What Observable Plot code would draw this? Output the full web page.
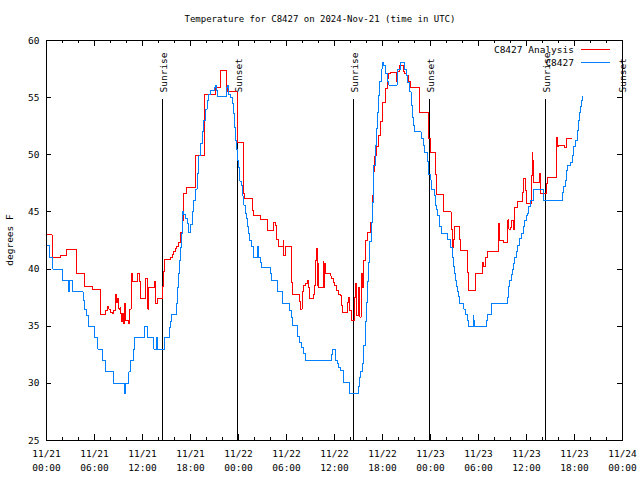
<!DOCTYPE html>
<html><head><meta charset="utf-8">
<script src="https://cdn.jsdelivr.net/npm/d3@7"></script>
<script src="https://cdn.jsdelivr.net/npm/@observablehq/plot@0.6"></script>
<style>body{margin:0;background:#fff}</style>
</head><body><div id="chart"></div>
<script>
// Hours since 2024-11-21 00:00 UTC
const analysisHours = [0,0.7,1.75,2.5,3.7,4.75,5.8,6.7,7.4,7.58,7.79,8.0,8.2,8.4,8.6,8.75,8.9,9.04,9.17,9.25,9.375,9.5,9.67,9.79,9.92,10.29,10.42,10.58,10.75,11.4,11.58,11.75,12.375,12.67,12.8,13.5,13.625,13.83,14.46,14.58,14.75,15.5,15.7,15.83,16.1,16.25,16.54,16.75,16.96,17.08,17.17,17.5,18.6,19.8,21.1,21.8,22.5,22.6,23.83,24.6,24.8,25.7,25.83,26.75,27.67,28.4,28.6,28.75,28.96,29.58,29.67,29.9,30.58,30.75,31.6,31.75,31.96,32.17,32.375,32.67,32.8,32.9,33.4,33.5,33.625,33.75,33.83,33.9,34.04,34.58,34.67,34.75,34.875,35.5,35.58,35.83,36.0,36.25,36.54,36.75,36.83,36.96,37.58,37.8,37.9,38.1,38.5,38.625,38.75,39.04,39.17,39.33,39.46,39.67,39.875,40.08,40.5,40.71,40.92,41.04,41.25,41.54,41.75,41.96,42.375,42.58,42.79,43.0,43.75,43.9,44.17,44.58,44.75,45.0,45.29,45.5,46.67,47.8,48.0,48.6,48.7,49.67,50.58,50.71,50.83,51.0,51.625,51.75,52.58,52.71,53.625,54.54,54.67,54.875,55.08,56.54,56.67,57.17,57.58,57.67,57.79,58.0,58.125,58.33,58.5,58.92,59.46,59.67,59.875,60.0,60.625,60.71,60.79,60.83,60.92,61.67,61.75,62.5,62.58,63.7,63.75,63.92,64.04,64.75,64.96,65.58];
const analysisTemps = [43,41,41.2,41.7,39.6,38.5,38.2,36,36.4,36.7,36.5,36.2,36.1,36.4,37.8,37.1,37.4,36.5,36.6,36.1,35.4,36.1,35.2,37.0,35.5,35.2,36.5,39.6,38.9,39.6,38.9,37.4,39.15,36.5,38.4,38.9,37.0,37.4,38.5,39.8,40.8,41.0,41.3,41.5,41.8,42.0,42.3,43.2,44.25,45.85,46.6,47.1,49.9,55.3,55.9,57.4,55.9,55.5,51.1,46.6,46.2,45.1,44.7,44.3,43.4,44.1,43.8,42.6,42.0,42.5,41.2,42.0,38.8,37.8,37.2,36.5,38.0,38.6,38.7,39.0,38.4,37.4,37.8,38.6,40.75,41.8,38.6,40.5,38.4,40.7,38.4,40.5,39.6,39.4,39.2,38.8,38.6,38.1,37.8,37.7,36.8,36.2,37.1,37.5,36.4,35.5,37.5,38.7,35.9,38.4,35.8,39.6,38.4,40.75,42.5,43.2,44.1,46.4,48.5,49.9,50.7,51.7,52.9,54.6,55.8,56.65,57.1,57.2,56.4,57.3,57.8,57.3,57.1,56.9,56.4,55.9,53.7,51.4,50.2,48.3,46.5,45.0,43.5,41.9,42.6,43.7,42.6,41.6,39.7,38.1,39.6,40.6,40.2,41.0,41.5,44.0,42.5,42.3,43.2,44.3,43.5,43.6,44.25,43.5,45.4,45.9,46.7,47.9,46.9,45.7,48.2,50.2,49.5,48.3,47.6,48.4,46.6,47.5,48.0,49.8,51.5,50.7,50.8,50.6,51.4,51.4];

const stationHours = [0,0.375,0.79,1.96,2.79,2.92,3.29,4.58,4.75,4.96,5.29,6.04,6.42,6.96,7.375,8.42,9.79,9.92,10.29,10.5,10.83,11.0,12.29,12.58,13.4,13.75,13.83,14.75,15.4,15.5,15.625,16.25,16.33,16.46,16.58,16.75,16.83,16.96,17.0,17.17,17.375,17.58,17.79,18.0,18.2,18.42,18.625,18.83,19.04,19.25,19.46,19.67,19.875,20.08,20.29,20.5,21.0,21.125,21.25,21.33,22.46,22.58,22.79,23.0,23.2,23.33,23.5,23.625,23.75,23.92,24.04,24.17,24.33,24.46,24.58,24.67,24.875,25.0,25.08,25.29,25.4,25.58,25.92,26.4,26.54,26.75,26.83,28.0,28.125,28.83,29.54,30.375,30.58,30.7,31.33,31.67,31.83,32.17,32.375,35.58,35.7,36.125,36.33,36.54,36.75,37.17,37.875,39.04,39.17,39.25,39.46,39.67,39.875,40.0,40.17,40.29,40.42,40.58,40.71,40.83,40.92,41.125,41.25,41.42,41.54,41.67,41.83,41.96,42.17,42.375,42.58,42.79,43.83,43.92,44.25,44.75,45.0,45.17,45.42,45.58,45.71,45.83,46.0,46.83,47.08,47.25,47.67,47.79,48.0,48.08,48.5,48.625,48.75,48.92,49.17,49.33,50.17,50.5,50.79,50.92,51.0,51.125,51.25,51.42,51.54,51.67,52.17,52.375,52.67,52.79,53.33,53.42,53.5,54.96,55.08,55.58,57.58,57.71,57.79,57.92,58.08,58.21,58.42,58.54,58.75,58.92,59.17,59.33,59.58,59.75,60.0,60.17,60.29,60.5,60.92,62.08,62.17,64.46,64.67,64.875,65.0,65.08,65.5,65.71,65.92,66.125,66.33,66.46,66.625,66.75,66.875,66.96];
const stationTemps = [42.1,41,40,39,38,39,38,37.25,36.5,35.9,35,34,33,32,31,30,29.1,30,31,32,33,34,35,34,33,34,33,34,34.9,35.4,36.0,37.0,38.4,39.6,40.75,41.9,43.1,44.25,45.0,44.8,44.4,44.0,43.2,43.9,45.0,46.0,47.0,48.4,49.9,51.0,52.0,53.0,54.0,54.75,55.3,55.6,55.9,56.1,55.6,55.1,55.9,56.1,55.3,55.0,54.5,53.6,52.4,51.25,50.5,49.5,48.9,47.7,47.3,46.4,45.9,45.6,44.9,44.4,43.7,43.1,42.5,42.0,41.0,42.0,41.0,40.6,40.1,39.6,39.0,38.0,37.0,36.4,35.8,35.1,34.1,33.6,33.1,32.6,32.0,32.5,33.0,32.0,31.7,31.4,31.1,30.1,29.1,29.7,30.5,31.0,31.7,33.3,35.4,37.1,38.9,40.6,42.4,44.1,45.8,47.6,49.1,50.8,52.3,53.7,55.2,56.4,57.5,58.1,57.8,57.1,56.4,56.1,57.0,57.5,58.1,57.5,56.9,56.3,55.5,54.3,53.3,52.6,52.0,51.4,50.8,50.2,49.4,48.3,47.8,47.0,46.4,45.6,45.2,44.7,43.7,43.1,42.6,41.9,41.0,40.2,39.6,39.0,38.5,38.0,37.6,37.0,36.5,36.0,35.5,35.0,35.9,35.5,35.0,35.5,36.0,37.0,37.5,38.0,38.5,39.0,39.5,40.0,40.5,41.0,41.5,42.1,42.7,43.1,43.7,44.25,44.7,44.9,45.5,46.0,47.0,46.5,46.0,46.7,47.2,47.75,48.6,49.1,49.3,49.9,50.7,51.25,52.1,53.0,53.7,54.2,54.75,55.1];

const sunHours = [14.5, 23.9, 38.4, 47.9, 62.4, 71.95];
const sunLabels = ["Sunrise", "Sunset", "Sunrise", "Sunset", "Sunrise", "Sunset"];
const sunLineTop = 54.8;
const sunLabelY = 55.45;

const xTickValues = [0,6,12,18,24,30,36,42,48,54,60,66,72];
const xTickLabels = ["11/21\n00:00","11/21\n06:00","11/21\n12:00","11/21\n18:00","11/22\n00:00","11/22\n06:00","11/22\n12:00","11/22\n18:00","11/23\n00:00","11/23\n06:00","11/23\n12:00","11/23\n18:00","11/24\n00:00"];
const xMinorTicks = d3.range(0, 73, 2);
const yTickValues = [25,30,35,40,45,50,55,60];

const seriesNames = ["C8427 Analysis", "C8427"];
const seriesColors = ["#ff0000", "#0080ff"];
const titleText = "Temperature for C8427 on 2024-Nov-21 (time in UTC)";
const yLabelText = "degrees F";

const W = 640, H = 480, ML = 46, MR = 18, MT = 40, MB = 40;
const FW = W - ML - MR, FH = H - MT - MB;
const FONT = "'DejaVu Sans Mono', 'Liberation Mono', monospace";

const analysis = analysisHours.map((h, i) => ({h, t: analysisTemps[i]}));
const station = stationHours.map((h, i) => ({h, t: stationTemps[i]}));
const sunEvents = sunHours.map((h, i) => ({h, label: sunLabels[i]}));

const plot = Plot.plot({
  width: W, height: H,
  marginLeft: ML, marginRight: MR, marginTop: MT, marginBottom: MB,
  x: {domain: [0, 72]},
  y: {domain: [25, 60]},
  style: {fontFamily: FONT, fontSize: "9px", background: "#fff", color: "#000", overflow: "visible"},
  marks: [
    Plot.ruleX(sunEvents, {x: "h", y1: () => 25, y2: () => sunLineTop, stroke: "#000", strokeWidth: 1, shapeRendering: "crispEdges"}),
    Plot.text(sunEvents, {x: "h", y: () => sunLabelY, text: "label", rotate: -90, textAnchor: "start", lineAnchor: "middle", dx: 1, fill: "#000", fontSize: 9.5}),
    Plot.line(analysis, {x: "h", y: "t", curve: "step-after", stroke: seriesColors[0], strokeWidth: 1, shapeRendering: "crispEdges"}),
    Plot.line(station, {x: "h", y: "t", curve: "step-after", stroke: seriesColors[1], strokeWidth: 1, shapeRendering: "crispEdges"}),
    Plot.ruleX(xMinorTicks, {x: d => d, insetTop: FH - 3, stroke: "#000", shapeRendering: "crispEdges"}),
    Plot.ruleX(xMinorTicks, {x: d => d, insetBottom: FH - 3, stroke: "#000", shapeRendering: "crispEdges"}),
    Plot.ruleX(xTickValues, {x: d => d, insetTop: FH - 6, stroke: "#000", shapeRendering: "crispEdges"}),
    Plot.ruleX(xTickValues, {x: d => d, insetBottom: FH - 6, stroke: "#000", shapeRendering: "crispEdges"}),
    Plot.ruleY(yTickValues, {y: d => d, insetRight: FW - 5, stroke: "#000", shapeRendering: "crispEdges"}),
    Plot.ruleY(yTickValues, {y: d => d, insetLeft: FW - 5, stroke: "#000", shapeRendering: "crispEdges"}),
    Plot.frame({stroke: "#000", shapeRendering: "crispEdges"}),
    Plot.axisX({ticks: xTickValues, tickSize: 0, tickPadding: 7, lineHeight: 1.45, fontSize: 9.5,
      tickFormat: d => xTickLabels[xTickValues.indexOf(d)], label: null}),
    Plot.axisY({ticks: yTickValues, tickSize: 0, tickPadding: 7, fontSize: 9.5, label: null})
  ]
});

const svg = d3.select(plot);
svg.append("text").attr("x", 320).attr("y", 22).attr("text-anchor", "middle")
  .attr("font-family", FONT).attr("font-size", 9).attr("fill", "#000").text(titleText);
svg.append("text").attr("transform", "translate(13,240) rotate(-90)").attr("text-anchor", "middle")
  .attr("font-family", FONT).attr("font-size", 9.5).attr("fill", "#000").text(yLabelText);
const legendRows = [53, 66];
seriesNames.forEach((name, i) => {
  svg.append("text").attr("x", 574).attr("y", legendRows[i]).attr("text-anchor", "end")
    .attr("font-family", FONT).attr("font-size", 9.5).attr("fill", "#000").text(name);
  svg.append("line").attr("x1", 581).attr("x2", 610).attr("y1", legendRows[i] - 3.5).attr("y2", legendRows[i] - 3.5)
    .attr("stroke", seriesColors[i]).attr("stroke-width", 1).attr("shape-rendering", "crispEdges");
});
document.getElementById("chart").appendChild(plot);
</script>
</body></html>
